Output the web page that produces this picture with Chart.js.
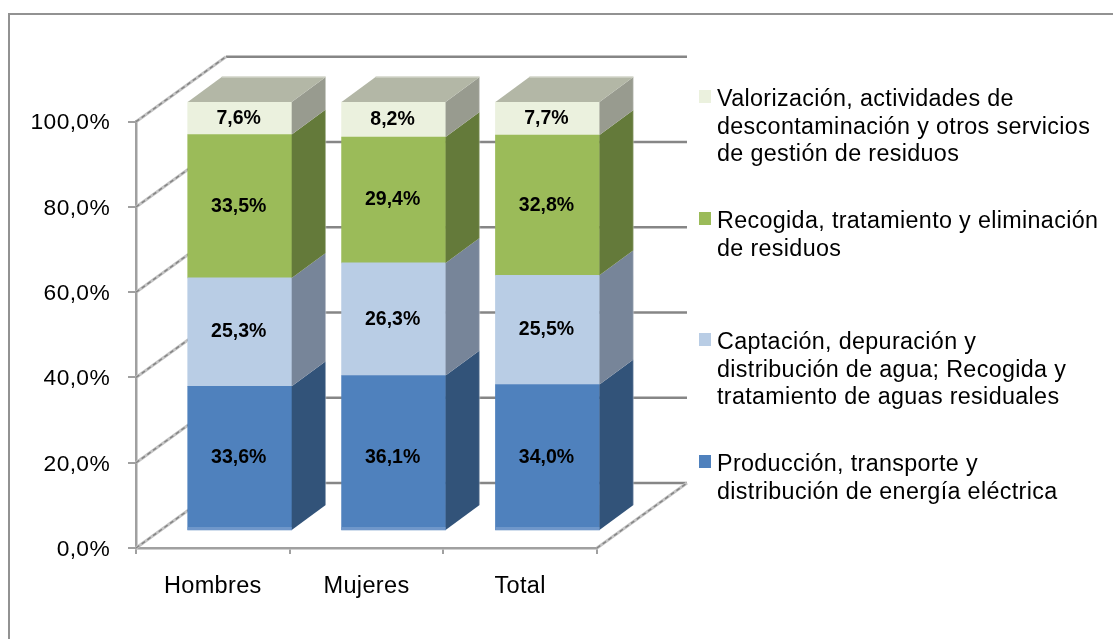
<!DOCTYPE html>
<html>
<head>
<meta charset="utf-8">
<title>Chart</title>
<script src="https://cdn.jsdelivr.net/npm/chart.js@4"></script>
<style>
    html, body { margin: 0; padding: 0; background: #ffffff; overflow: hidden; }
    #frame { position: absolute; left: 8px; top: 13px; right: 0; bottom: 0; border-left: 2px solid #929292; border-top: 2px solid #929292; }
    #sectorChart { position: absolute; left: 0; top: 0; }
</style>
</head>
<body>
<div id="frame"></div>
<canvas id="sectorChart" width="1113" height="639"></canvas>
<script>
const categories = ['Hombres', 'Mujeres', 'Total'];
const energia = [33.6, 36.1, 34.0];
const agua = [25.3, 26.3, 25.5];
const recogida = [33.5, 29.4, 32.8];
const valorizacion = [7.6, 8.2, 7.7];
const yTickLabels = ['0,0%', '20,0%', '40,0%', '60,0%', '80,0%', '100,0%'];

const legendEnergia = ['Producción, transporte y', 'distribución de energía eléctrica'];
const legendAgua = ['Captación, depuración y', 'distribución de agua; Recogida y', 'tratamiento de aguas residuales'];
const legendRecogida = ['Recogida, tratamiento y eliminación', 'de residuos'];
const legendValorizacion = ['Valorización, actividades de', 'descontaminación y otros servicios', 'de gestión de residuos'];

const FONT = '"Liberation Sans", Arial, sans-serif';
const GRID_COLOR = '#868686';
const AXIS_COLOR = '#a0a0a0';
const WALL = { x: 90, y: -65 };
const DEPTH = { x: 34, y: -25 };

function makeSeries(label, values, color, sideColor, legendLines, legendTop) {
    return {
        label: label,
        data: values.map((v, i) => ({ x: i, y: v })),
        backgroundColor: color,
        sideColor: sideColor,
        legendLines: legendLines,
        legendTop: legendTop,
        xAxisID: 'xBars',
        yAxisID: 'yBars',
        stack: 'all',
        barThickness: 104,
        clip: false
    };
}

function wallDiagonal(ctx, x, y) {
    ctx.lineWidth = 3;
    ctx.strokeStyle = '#c4c4c4';
    ctx.setLineDash([]);
    ctx.beginPath();
    ctx.moveTo(x, y);
    ctx.lineTo(x + WALL.x, y + WALL.y);
    ctx.stroke();
    ctx.lineWidth = 1.5;
    ctx.strokeStyle = '#858585';
    ctx.setLineDash([4, 3]);
    ctx.stroke();
    ctx.setLineDash([]);
}

// back wall, side wall and floor lines, all taken from the visible y axis
const wallsPlugin = {
    id: 'walls',
    beforeDatasetsDraw(chart) {
        const ctx = chart.ctx;
        const y = chart.scales.y;
        const area = chart.chartArea;
        ctx.save();
        y.ticks.forEach(t => {
            const py = y.getPixelForValue(t.value);
            ctx.lineWidth = 2.6;
            ctx.strokeStyle = GRID_COLOR;
            ctx.beginPath();
            ctx.moveTo(area.left + WALL.x, py + WALL.y);
            ctx.lineTo(area.right + WALL.x, py + WALL.y);
            ctx.stroke();
            wallDiagonal(ctx, area.left, py);
        });
        wallDiagonal(ctx, area.right, area.bottom);
        ctx.restore();
    }
};

// the sides and tops of the bars, plus the value labels
const bars3dPlugin = {
    id: 'bars3d',
    afterDatasetsDraw(chart) {
        const ctx = chart.ctx;
        const last = chart.data.datasets.length - 1;
        ctx.save();
        ctx.letterSpacing = '0px';
        chart.data.datasets.forEach((ds, d) => {
            chart.getDatasetMeta(d).data.forEach(bar => {
                const p = bar.getProps(['x', 'y', 'base', 'width'], true);
                const right = p.x + p.width / 2;
                const left = p.x - p.width / 2;
                ctx.fillStyle = ds.sideColor;
                ctx.beginPath();
                ctx.moveTo(right, p.y);
                ctx.lineTo(right + DEPTH.x, p.y + DEPTH.y);
                ctx.lineTo(right + DEPTH.x, p.base + DEPTH.y);
                ctx.lineTo(right, p.base);
                ctx.closePath();
                ctx.fill();
                ctx.strokeStyle = 'rgba(255,255,255,0.25)';
                ctx.lineWidth = 1.5;
                ctx.beginPath();
                ctx.moveTo(right + DEPTH.x, p.y + DEPTH.y);
                ctx.lineTo(right + DEPTH.x, p.base + DEPTH.y);
                ctx.stroke();
                if (d === last) {
                    ctx.fillStyle = '#b3b7a6';
                    ctx.beginPath();
                    ctx.moveTo(left, p.y);
                    ctx.lineTo(left + DEPTH.x, p.y + DEPTH.y);
                    ctx.lineTo(right + DEPTH.x, p.y + DEPTH.y);
                    ctx.lineTo(right, p.y);
                    ctx.closePath();
                    ctx.fill();
                    ctx.strokeStyle = '#d2d4c8';
                    ctx.lineWidth = 1.5;
                    ctx.beginPath();
                    ctx.moveTo(left + DEPTH.x, p.y + DEPTH.y);
                    ctx.lineTo(right + DEPTH.x, p.y + DEPTH.y);
                    ctx.stroke();
                }
                if (d === 0) {
                    ctx.fillStyle = '#7097ca';
                    ctx.fillRect(left, p.base - 3, p.width, 3);
                }
            });
        });
        ctx.fillStyle = '#000000';
        ctx.font = 'bold 19.5px ' + FONT;
        ctx.textAlign = 'center';
        ctx.textBaseline = 'middle';
        chart.data.datasets.forEach((ds, d) => {
            chart.getDatasetMeta(d).data.forEach((bar, i) => {
                const p = bar.getProps(['x', 'y', 'base'], true);
                const text = ds.data[i].y.toFixed(1).replace('.', ',') + '%';
                // the original has the 36,1% label a few pixels below centre
                const nudge = (d === 0 && i === 1) ? 5 : 0;
                ctx.fillText(text, p.x - 1, (p.y + p.base) / 2 + nudge);
            });
        });
        ctx.restore();
    }
};

const sideLegendPlugin = {
    id: 'sideLegend',
    beforeDraw(chart) {
        // the original text is set a little loose and sits a bit lower
        chart.ctx.letterSpacing = '0.35px';
        chart.scales.y.getLabelItems().forEach(item => { item.textOffset += 1.5; });
    },
    afterDraw(chart) {
        const ctx = chart.ctx;
        ctx.save();
        ctx.textAlign = 'left';
        ctx.textBaseline = 'middle';
        ctx.font = '23.3px ' + FONT;
        chart.data.datasets.forEach(ds => {
            ctx.fillStyle = ds.backgroundColor;
            ctx.fillRect(699, ds.legendTop, 12, 13);
            ctx.fillStyle = '#000000';
            ds.legendLines.forEach((line, i) => {
                ctx.fillText(line, 717, ds.legendTop + 10 + i * 27.2);
            });
        });
        ctx.restore();
    }
};

function renderChart() {
    const ctx = document.getElementById('sectorChart').getContext('2d');
    new Chart(ctx, {
        type: 'bar',
        data: {
            datasets: [
                makeSeries('Producción, transporte y distribución de energía eléctrica', energia, '#4f81bd', '#325379', legendEnergia, 455),
                makeSeries('Captación, depuración y distribución de agua; Recogida y tratamiento de aguas residuales', agua, '#b9cde5', '#778599', legendAgua, 333),
                makeSeries('Recogida, tratamiento y eliminación de residuos', recogida, '#9bbb59', '#647a3a', legendRecogida, 212),
                makeSeries('Valorización, actividades de descontaminación y otros servicios de gestión de residuos', valorizacion, '#ebf1de', '#989b8f', legendValorizacion, 90)
            ]
        },
        options: {
            responsive: false,
            animation: false,
            layout: { padding: { left: 0, right: 516, top: 121.7, bottom: 0 } },
            plugins: { legend: { display: false }, tooltip: { enabled: false } },
            scales: {
                x: {
                    type: 'category',
                    labels: categories,
                    offset: true,
                    afterFit(scale) { scale.height = 91; },
                    border: { color: AXIS_COLOR, width: 2.5 },
                    grid: { offset: true, drawOnChartArea: false, color: AXIS_COLOR, lineWidth: 2, tickLength: 6 },
                    ticks: { color: '#000000', padding: 18, maxRotation: 0, font: { family: FONT, size: 23.5 } }
                },
                y: {
                    type: 'linear',
                    min: 0,
                    max: 100,
                    afterFit(scale) { scale.width = 136; },
                    border: { color: AXIS_COLOR, width: 2.5 },
                    grid: { drawOnChartArea: false, color: AXIS_COLOR, lineWidth: 2, tickLength: 8 },
                    ticks: {
                        stepSize: 20,
                        color: '#000000',
                        padding: 18,
                        font: { family: FONT, size: 22.8 },
                        callback: (value, index) => yTickLabels[index]
                    }
                },
                // the bars sit further into the depth than the axes, so they get their own hidden scales
                xBars: { type: 'linear', display: false, offset: false, min: -0.674, max: 2.322 },
                yBars: { type: 'linear', display: false, stacked: true, min: -4.2, max: 95.4 }
            }
        },
        plugins: [wallsPlugin, bars3dPlugin, sideLegendPlugin]
    });
}

document.addEventListener('DOMContentLoaded', renderChart);
</script>
</body>
</html>
